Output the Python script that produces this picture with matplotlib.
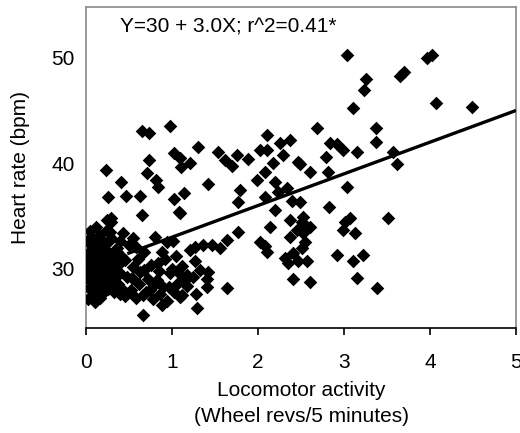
import matplotlib
matplotlib.use("Agg")
import matplotlib.pyplot as plt
import numpy as np

plt.rcParams['font.family'] = ['Liberation Sans', 'DejaVu Sans']

# -------- Data (x = wheel revs / 5 min, y = heart rate bpm) --------
# dense cluster of resting points near zero activity
rest_pts = [
    (0.02, 27.1), (0.03, 28.2), (0.02, 29.3), (0.04, 30.4), (0.02, 31.5), (0.05, 32.4),
    (0.03, 30.0), (0.06, 28.8), (0.07, 31.0), (0.08, 29.6), (0.09, 32.8), (0.10, 27.9),
    (0.11, 30.7), (0.12, 29.0), (0.13, 31.8), (0.14, 28.4), (0.15, 30.2), (0.16, 33.2),
    (0.17, 29.5), (0.18, 31.3), (0.19, 27.6), (0.20, 30.8), (0.21, 32.3), (0.22, 28.9),
    (0.23, 29.9), (0.25, 31.6), (0.26, 28.1), (0.27, 30.4), (0.29, 32.9), (0.30, 29.3),
    (0.31, 31.1), (0.33, 27.8), (0.34, 30.1), (0.36, 32.0), (0.37, 28.6), (0.39, 29.6),
    (0.41, 31.2), (0.43, 28.0), (0.05, 33.6), (0.10, 26.9), (0.08, 31.9), (0.14, 32.2),
    (0.24, 33.7), (0.12, 34.0), (0.04, 29.0), (0.07, 27.4), (0.11, 32.0), (0.16, 27.2),
    (0.18, 29.9), (0.22, 31.0), (0.28, 29.0), (0.06, 30.8), (0.13, 30.6), (0.19, 32.6),
    (0.09, 28.5), (0.15, 28.9), (0.21, 29.4), (0.26, 30.0), (0.32, 29.1), (0.35, 31.3),
    (0.38, 30.5), (0.09, 30.2), (0.03, 32.8), (0.17, 31.9), (0.25, 32.5), (0.31, 28.3),
    (0.40, 27.6),
]

# low activity, lower band and points near the fitted line
low_pts = [
    (0.29, 34.4), (0.24, 34.6), (0.28, 33.5), (0.43, 33.4), (0.55, 32.9), (0.80, 33.0),
    (0.94, 32.5), (1.01, 32.6), (0.58, 32.1), (0.36, 31.6), (0.40, 32.6), (0.50, 32.3),
    (0.67, 31.6), (0.67, 29.9), (0.45, 30.8), (0.55, 30.2), (0.63, 29.7), (0.72, 29.0),
    (0.80, 28.6), (0.45, 27.4), (0.48, 29.2), (0.52, 28.0), (0.58, 27.2), (0.62, 28.6),
    (0.66, 27.5), (0.74, 28.0), (0.78, 27.1), (0.82, 28.9), (0.86, 27.6), (0.88, 26.6),
    (0.66, 25.6), (0.90, 28.3), (0.94, 27.0), (0.98, 29.6), (1.02, 27.8), (1.06, 28.6),
    (1.09, 27.3), (1.12, 27.5), (1.18, 28.4), (1.24, 29.2), (1.28, 27.6), (1.29, 26.3),
    (0.75, 30.4), (0.85, 29.8), (0.92, 30.9), (1.00, 30.0), (1.05, 31.2), (1.12, 30.3),
    (1.18, 29.4), (0.88, 31.6), (1.21, 31.8), (1.27, 30.7), (1.33, 29.9), (1.42, 29.7),
    (1.41, 29.0), (1.41, 28.3), (1.64, 28.2), (1.27, 32.1), (1.36, 32.3), (1.47, 32.3),
    (1.56, 32.0), (1.64, 32.7), (1.77, 33.5), (0.70, 27.8), (0.96, 28.3), (1.15, 28.9),
    (0.54, 29.1), (0.60, 30.9), (0.84, 30.6), (1.08, 29.6),
]

# scattered points above the resting cluster
upper_pts = [
    (0.23, 39.4), (0.65, 43.1), (0.73, 42.9), (0.98, 43.5), (0.73, 40.3), (0.71, 39.1),
    (0.81, 38.4), (0.84, 37.8), (0.41, 38.2), (0.26, 36.8), (0.47, 36.9), (0.63, 36.9),
    (1.02, 41.0), (1.09, 40.5), (1.10, 39.6), (1.21, 40.0), (1.02, 36.6), (1.14, 37.2),
    (1.08, 35.4), (0.65, 35.1), (0.29, 34.8), (1.30, 41.5), (1.53, 41.1), (1.76, 40.8),
    (1.62, 40.3), (1.88, 40.4), (1.70, 39.7), (2.10, 42.7), (2.02, 41.3), (2.10, 41.3),
    (2.26, 41.9), (2.37, 42.2), (2.29, 40.8), (2.17, 40.0), (2.47, 40.1), (2.08, 39.2),
    (1.99, 38.4), (1.42, 38.0), (1.79, 37.5), (1.77, 36.3), (2.08, 36.8), (2.20, 38.2),
    (2.23, 37.3), (2.34, 37.7), (2.20, 35.6), (2.40, 36.4), (1.09, 35.3),
]

# high activity points
high_pts = [
    (2.69, 43.3), (3.37, 43.3), (3.37, 42.0), (2.84, 41.9), (2.92, 41.8), (2.99, 41.3),
    (3.15, 41.1), (2.79, 40.6), (3.57, 41.1), (3.62, 39.9), (2.81, 39.2), (3.03, 37.8),
    (2.83, 35.9), (3.07, 34.8), (3.51, 34.8), (2.49, 39.9), (2.60, 39.2), (2.49, 36.3),
    (2.52, 34.9), (2.37, 34.6), (3.03, 50.3), (3.26, 48.0), (3.23, 46.9), (3.10, 45.2),
    (3.65, 48.3), (3.70, 48.6), (3.97, 50.0), (4.02, 50.3), (4.07, 45.7), (4.49, 45.3),
    (2.51, 34.4), (2.60, 34.0), (2.52, 33.4), (2.37, 33.0), (3.01, 34.4), (2.99, 33.7),
    (3.13, 33.4), (2.51, 32.0), (2.41, 31.5), (2.57, 30.7), (2.47, 30.7), (2.92, 31.3),
    (3.10, 30.7), (3.22, 31.3), (3.15, 29.1), (3.38, 28.2), (2.41, 29.0), (2.60, 28.8),
    (2.31, 31.0), (2.35, 30.6), (2.14, 34.0), (2.02, 32.5), (2.08, 32.2), (2.10, 31.6),
    (2.55, 32.5), (2.45, 33.7),
]

# regression: Y = 30 + 3.0X
fit_intercept = 30.0
fit_slope = 3.0
fit_x = [0.48, 5.0]

xticks = [0, 1, 2, 3, 4, 5]
yticks = [30, 40, 50]

# -------- Plot --------
fig = plt.figure(figsize=(5.2, 4.33), dpi=100)
ax = fig.add_axes([86 / 520, 1 - 328 / 433, 430 / 520, 321 / 433])

all_pts = rest_pts + low_pts + upper_pts + high_pts
xs = [p[0] for p in all_pts]
ys = [p[1] for p in all_pts]
ax.scatter(xs, ys, marker='D', s=48, color='black', linewidths=0, zorder=3)

fx = np.array(fit_x)
ax.plot(fx, fit_intercept + fit_slope * fx, color='black', lw=2.4, zorder=4,
        solid_capstyle='butt')

ax.set_xlim(0, 5)
ax.set_ylim(24.4, 54.8)
ax.set_xticks(xticks)
ax.set_yticks(yticks)
ax.tick_params(axis='x', direction='out', length=5, width=1.2, pad=13,
               labelsize=15, color='black')
ax.tick_params(axis='y', length=0, pad=8, labelsize=15)

for side in ['left', 'top', 'right']:
    ax.spines[side].set_color('#8a8a8a')
    ax.spines[side].set_linewidth(1.2)
ax.spines['bottom'].set_color('black')
ax.spines['bottom'].set_linewidth(1.2)

ax.text(0.079, 0.938, 'Y=30 + 3.0X; r^2=0.41*', transform=ax.transAxes,
        fontsize=15, ha='left', va='center')

fig.text(301 / 520, 1 - 391 / 433, 'Locomotor activity', fontsize=15,
         ha='center', va='center')
fig.text(301 / 520, 1 - 416 / 433, '(Wheel revs/5 minutes)', fontsize=15,
         ha='center', va='center')
fig.text(21 / 520, 1 - 167 / 433, 'Heart rate (bpm)', fontsize=15,
         ha='center', va='center', rotation=90)

fig.savefig('out.png', dpi=100)
